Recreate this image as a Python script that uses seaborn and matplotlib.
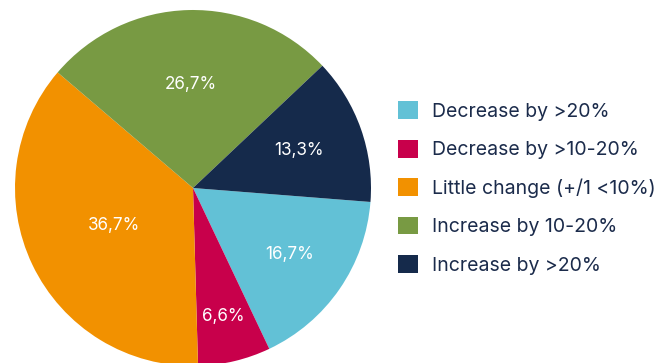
import matplotlib
matplotlib.use("Agg")
import matplotlib.pyplot as plt
import seaborn as sns
import numpy as np

categories = ["Decrease by >20%", "Decrease by >10-20%", "Little change (+/1 <10%)",
              "Increase by 10-20%", "Increase by >20%"]
values = [16.7, 6.6, 36.7, 26.7, 13.3]
colors = ["#62C1D6", "#C8004B", "#F29100", "#789A43", "#152A4B"]
label_dist = [0.66, 0.74, 0.49, 0.58, 0.63]

sns.set_theme(style="white")
plt.rcParams["font.family"] = ["Inter", "DejaVu Sans"]
palette = sns.color_palette(colors)

fig = plt.figure(figsize=(6.72, 3.63), dpi=100)
ax = fig.add_axes([15/672, -3/363, 356/672, 356/363])
wedges, texts = ax.pie(
    values, colors=palette, startangle=-4.5, counterclock=False,
    radius=1.0, wedgeprops=dict(linewidth=0))
for w, v, d in zip(wedges, values, label_dist):
    ang = np.deg2rad((w.theta1 + w.theta2) / 2)
    ax.text(d*np.cos(ang), d*np.sin(ang), f"{v:.1f}%".replace(".", ","),
            ha="center", va="center", color="white", fontsize=12.3)
ax.set_xlim(-1, 1)
ax.set_ylim(-1, 1)
ax.set_aspect("equal")
ax.axis("off")

leg = fig.legend(wedges, categories, loc="center left", bbox_to_anchor=(398/672, 1 - 188/363),
                 frameon=False, fontsize=14, handlelength=1.03, handleheight=1.03,
                 handletextpad=0.72, labelspacing=0.97, borderaxespad=0, borderpad=0)
for t in leg.get_texts():
    t.set_color("#1B2B4B")

fig.savefig("out.png", dpi=100)
